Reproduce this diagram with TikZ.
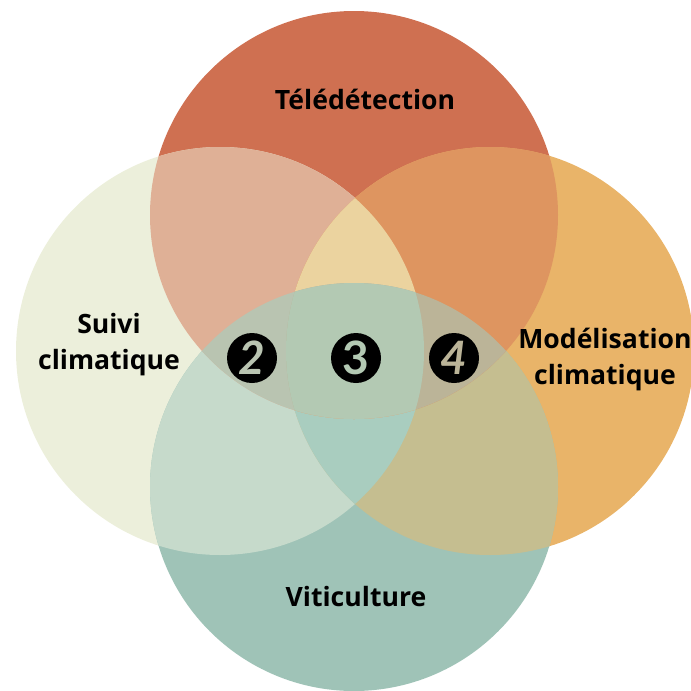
\documentclass[tikz,border=0pt]{standalone}
\usepackage{fontspec}
\newfontfamily\labelfont{Open Sans}
\newfontfamily\digitfont{Lato}
\definecolor{cT}{HTML}{CF7051}
\definecolor{cL}{HTML}{ECEFDB}
\definecolor{cR}{HTML}{E9B469}
\definecolor{cB}{HTML}{9FC3B7}
\definecolor{cTL}{HTML}{DFB096}
\definecolor{cTR}{HTML}{DE9560}
\definecolor{cLB}{HTML}{C6DACB}
\definecolor{cRB}{HTML}{C5BE90}
\definecolor{cTLR}{HTML}{EBD39F}
\definecolor{cLRB}{HTML}{A9CDBF}
\definecolor{cTLB}{HTML}{B9C4B1}
\definecolor{cTRB}{HTML}{BBB498}
\definecolor{cAll}{HTML}{B3C9B3}
\tikzset{
  label text/.style={font=\labelfont\bfseries\fontsize{26.6}{36}\selectfont,align=center,text=black,inner sep=0pt},
  badge/.style={circle,fill=black,minimum size=50pt,inner sep=0pt,font=\digitfont\bfseries\fontsize{46}{46}\selectfont},
}
\newcommand{\circT}{(354,215) circle[radius=204]}
\newcommand{\circL}{(220,351) circle[radius=204]}
\newcommand{\circR}{(490,351) circle[radius=204]}
\newcommand{\circB}{(354,487) circle[radius=204]}
\begin{document}
\begin{tikzpicture}[x=1pt,y=-1pt]
\useasboundingbox (0,0) rectangle (691,691);
\begin{scope}
\clip (0,0) rectangle (691,691);
\fill[cT] \circT;
\fill[cL] \circL;
\fill[cR] \circR;
\fill[cB] \circB;
\begin{scope}\clip \circB; \fill[cLB] \circL; \fill[cRB] \circR;
  \begin{scope}\clip \circL; \fill[cLRB] \circR; \end{scope}
\end{scope}
\begin{scope}\clip \circT; \fill[cTL] \circL; \fill[cTR] \circR;
  \begin{scope}\clip \circL; \fill[cTLR] \circR; \fill[cTLB] \circB; \end{scope}
  \begin{scope}\clip \circR; \fill[cTRB] \circB; \end{scope}
  \begin{scope}\clip \circL; \clip \circR; \fill[cAll] \circB; \end{scope}
\end{scope}
\end{scope}
\node[label text] (tele) at (365,99) {Télédétection};
\node[label text] (suivi) at (109,345) {Suivi\\climatique};
\node[label text] (model) at (605,359) {Modélisation\\climatique};
\node[label text] (viti) at (356,597) {Viticulture};
\node[badge,text=cTLB] (two) at (252,358) {\itshape 2};
\node[badge,text=cAll] (three) at (356,358) {3};
\node[badge,text=cTRB] (four) at (454,358) {\itshape 4};
\end{tikzpicture}
\end{document}
